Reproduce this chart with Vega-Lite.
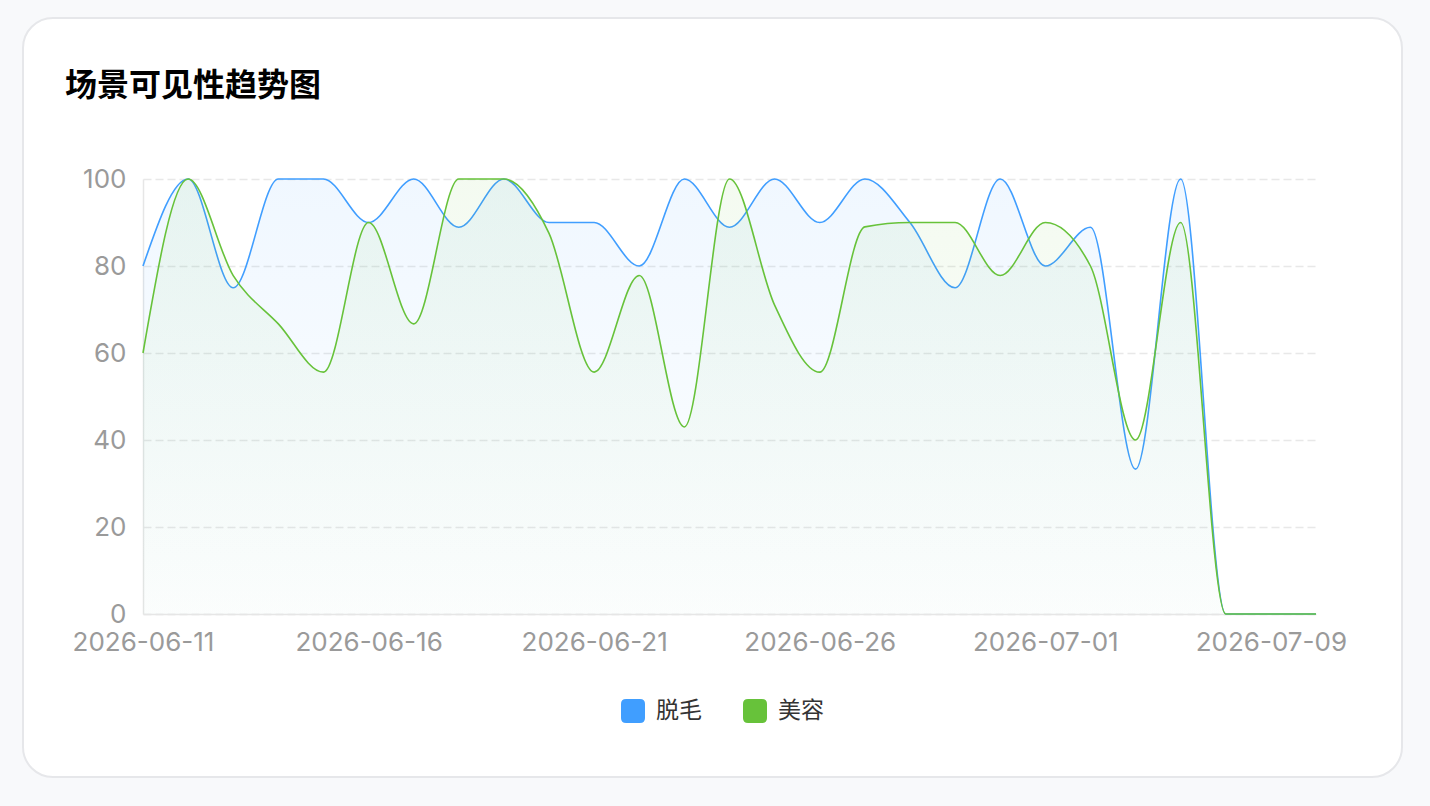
{
  "$schema": "https://vega.github.io/schema/vega-lite/v6.json",
  "description": "场景可见性趋势图: 脱毛 vs 美容",
  "autosize": {"type": "none"},
  "width": 1379,
  "height": 759,
  "padding": {"left": 23, "top": 18, "right": 28, "bottom": 29},
  "background": "#f8f9fb",
  "view": {"fill": "#ffffff", "stroke": "#e6e7ea", "strokeWidth": 2, "cornerRadius": 30},

  "title": {
    "text": "场景可见性趋势图",
    "anchor": "start",
    "frame": "group",
    "font": "Noto Sans CJK SC",
    "fontSize": 32,
    "fontWeight": "bold",
    "color": "#000000",
    "dx": 42,
    "offset": -85
  },

  "data": {
    "values": [
      {"date": "2026-06-11", "series": "脱毛", "value": 80},
      {"date": "2026-06-12", "series": "脱毛", "value": 100},
      {"date": "2026-06-13", "series": "脱毛", "value": 75},
      {"date": "2026-06-14", "series": "脱毛", "value": 100},
      {"date": "2026-06-15", "series": "脱毛", "value": 100},
      {"date": "2026-06-16", "series": "脱毛", "value": 90},
      {"date": "2026-06-17", "series": "脱毛", "value": 100},
      {"date": "2026-06-18", "series": "脱毛", "value": 88.9},
      {"date": "2026-06-19", "series": "脱毛", "value": 100},
      {"date": "2026-06-20", "series": "脱毛", "value": 90},
      {"date": "2026-06-21", "series": "脱毛", "value": 90},
      {"date": "2026-06-22", "series": "脱毛", "value": 80},
      {"date": "2026-06-23", "series": "脱毛", "value": 100},
      {"date": "2026-06-24", "series": "脱毛", "value": 88.9},
      {"date": "2026-06-25", "series": "脱毛", "value": 100},
      {"date": "2026-06-26", "series": "脱毛", "value": 90},
      {"date": "2026-06-27", "series": "脱毛", "value": 100},
      {"date": "2026-06-28", "series": "脱毛", "value": 90},
      {"date": "2026-06-29", "series": "脱毛", "value": 75},
      {"date": "2026-06-30", "series": "脱毛", "value": 100},
      {"date": "2026-07-01", "series": "脱毛", "value": 80},
      {"date": "2026-07-02", "series": "脱毛", "value": 88.9},
      {"date": "2026-07-03", "series": "脱毛", "value": 33.3},
      {"date": "2026-07-04", "series": "脱毛", "value": 100},
      {"date": "2026-07-05", "series": "脱毛", "value": 0},
      {"date": "2026-07-09", "series": "脱毛", "value": 0},
      {"date": "2026-07-10", "series": "脱毛", "value": 0},

      {"date": "2026-06-11", "series": "美容", "value": 60},
      {"date": "2026-06-12", "series": "美容", "value": 100},
      {"date": "2026-06-13", "series": "美容", "value": 77.8},
      {"date": "2026-06-14", "series": "美容", "value": 66.7},
      {"date": "2026-06-15", "series": "美容", "value": 55.6},
      {"date": "2026-06-16", "series": "美容", "value": 90},
      {"date": "2026-06-17", "series": "美容", "value": 66.7},
      {"date": "2026-06-18", "series": "美容", "value": 100},
      {"date": "2026-06-19", "series": "美容", "value": 100},
      {"date": "2026-06-20", "series": "美容", "value": 87.5},
      {"date": "2026-06-21", "series": "美容", "value": 55.6},
      {"date": "2026-06-22", "series": "美容", "value": 77.8},
      {"date": "2026-06-23", "series": "美容", "value": 43},
      {"date": "2026-06-24", "series": "美容", "value": 100},
      {"date": "2026-06-25", "series": "美容", "value": 71},
      {"date": "2026-06-26", "series": "美容", "value": 55.6},
      {"date": "2026-06-27", "series": "美容", "value": 89},
      {"date": "2026-06-28", "series": "美容", "value": 90},
      {"date": "2026-06-29", "series": "美容", "value": 90},
      {"date": "2026-06-30", "series": "美容", "value": 77.8},
      {"date": "2026-07-01", "series": "美容", "value": 90},
      {"date": "2026-07-02", "series": "美容", "value": 80},
      {"date": "2026-07-03", "series": "美容", "value": 40},
      {"date": "2026-07-04", "series": "美容", "value": 90},
      {"date": "2026-07-05", "series": "美容", "value": 0},
      {"date": "2026-07-09", "series": "美容", "value": 0},
      {"date": "2026-07-10", "series": "美容", "value": 0}
    ]
  },

  "encoding": {
    "x": {
      "field": "date",
      "type": "ordinal",
      "scale": {"type": "point", "range": [120, 1293], "padding": 0},
      "axis": {
        "orient": "bottom",
        "offset": -163,
        "values": ["2026-06-11", "2026-06-16", "2026-06-21", "2026-06-26", "2026-07-01", "2026-07-09"],
        "title": null,
        "ticks": false,
        "grid": false,
        "domainColor": "#e6e6e6",
        "domainWidth": 1.5,
        "labelAngle": 0,
        "labelOverlap": false,
        "labelFont": "Inter",
        "labelFontSize": 26,
        "labelColor": "#9a9a9a",
        "labelPadding": 15
      }
    },
    "y": {
      "field": "value",
      "type": "quantitative",
      "scale": {"domain": [0, 100], "range": [596, 161], "nice": false},
      "axis": {
        "orient": "left",
        "offset": -120,
        "values": [0, 20, 40, 60, 80, 100],
        "title": null,
        "ticks": false,
        "domainColor": "#e6e6e6",
        "domainWidth": 1.5,
        "grid": true,
        "gridColor": "#e8e8e8",
        "gridDash": [8, 4],
        "gridWidth": 1.5,
        "labelFont": "Inter",
        "labelFontSize": 26,
        "labelColor": "#9a9a9a",
        "labelPadding": 17
      }
    }
  },

  "layer": [
    {
      "transform": [{"filter": "datum.series === '脱毛'"}],
      "mark": {
        "type": "area",
        "interpolate": "monotone",
        "fill": {
          "gradient": "linear", "x1": 0, "y1": 0, "x2": 0, "y2": 1,
          "stops": [
            {"offset": 0, "color": "rgba(64,158,255,0.08)"},
            {"offset": 1, "color": "rgba(64,158,255,0.01)"}
          ]
        }
      }
    },
    {
      "transform": [{"filter": "datum.series === '脱毛'"}],
      "mark": {"type": "line", "interpolate": "monotone", "strokeWidth": 1.6},
      "encoding": {
        "color": {
          "field": "series",
          "type": "nominal",
          "scale": {"domain": ["脱毛", "美容"], "range": ["#409eff", "#67c23a"]},
          "legend": {
            "title": null,
            "orient": "none",
            "direction": "horizontal",
            "legendX": 598,
            "legendY": 681,
            "padding": 0,
            "symbolType": "M-0.58,-1L0.58,-1Q1,-1 1,-0.58L1,0.58Q1,1 0.58,1L-0.58,1Q-1,1 -1,0.58L-1,-0.58Q-1,-1 -0.58,-1Z",
            "symbolSize": 576,
            "labelFont": "Noto Sans CJK SC",
            "labelFontSize": 23,
            "labelColor": "#333333",
            "labelOffset": 11,
            "columnPadding": 41,
            "encode": {
              "symbols": {
                "update": {
                  "fill": {"scale": "color", "field": "value"},
                  "fillOpacity": {"value": 1},
                  "strokeWidth": {"value": 0}
                }
              }
            }
          }
        }
      }
    },
    {
      "transform": [{"filter": "datum.series === '美容'"}],
      "mark": {
        "type": "area",
        "interpolate": "monotone",
        "fill": {
          "gradient": "linear", "x1": 0, "y1": 0, "x2": 0, "y2": 1,
          "stops": [
            {"offset": 0, "color": "rgba(103,194,58,0.075)"},
            {"offset": 1, "color": "rgba(103,194,58,0.01)"}
          ]
        }
      }
    },
    {
      "transform": [{"filter": "datum.series === '美容'"}],
      "mark": {"type": "line", "interpolate": "monotone", "strokeWidth": 1.6},
      "encoding": {
        "color": {
          "field": "series",
          "type": "nominal"
        }
      }
    }
  ]
}
